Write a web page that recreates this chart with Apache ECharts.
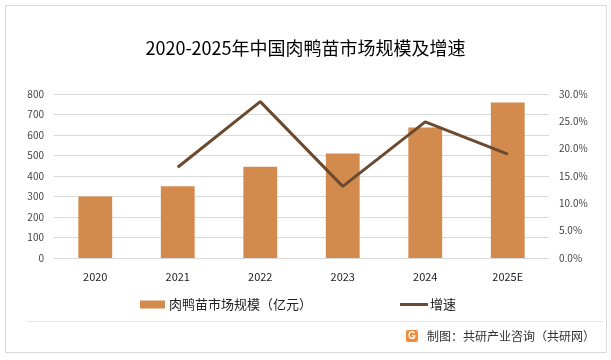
<!DOCTYPE html>
<html><head><meta charset="utf-8">
<script src="https://cdn.jsdelivr.net/npm/echarts@6/dist/echarts.min.js"></script>
<style>html,body{margin:0;padding:0;background:#fff}#c{width:611px;height:360px}</style>
</head><body><div id="c"></div>
<script>
const categories = ['2020','2021','2022','2023','2024','2025E'];
const marketSize = [300, 350, 445, 510, 636, 758];
const growthRate = [null, 16.6, 28.6, 13.1, 24.9, 19.0];
const leftTicks = [0, 800, 100];
const rightTicks = [0, 30, 5];
const seriesNames = ['肉鸭苗市场规模（亿元）', '增速'];
const titleText = '2020-2025年中国肉鸭苗市场规模及增速';
const sourceText = '制图：共研产业咨询（共研网）';

const font = '"Microsoft YaHei","Noto Sans CJK SC","Noto Sans",sans-serif';
const chart = echarts.init(document.getElementById('c'), null, {renderer:'canvas'});
chart.setOption({
  backgroundColor:'#fff',
  animation:false,
  title:{text:titleText,left:'center',top:34,textStyle:{fontSize:18,fontWeight:'normal',color:'#000',fontFamily:font}},
  grid:{left:54,right:62,top:94,bottom:102,containLabel:false},
  legend:[
    {left:140,top:298,padding:0,itemGap:4,itemWidth:25,itemHeight:8,data:[{name:seriesNames[0],icon:'rect'}],textStyle:{fontSize:13,color:'#222',fontFamily:font,padding:[0,0,0,-1]}},
    {left:400,top:298,padding:0,itemWidth:28,itemHeight:3,data:[{name:seriesNames[1],icon:'rect'}],textStyle:{fontSize:13,color:'#222',fontFamily:font,padding:[0,0,0,-3]}}
  ],
  xAxis:{type:'category',data:categories,axisLine:{lineStyle:{color:'#d9d9d9'}},axisTick:{show:false},
    axisLabel:{color:'#222',fontSize:11,margin:13,fontFamily:font}},
  yAxis:[
    {type:'value',min:leftTicks[0],max:leftTicks[1],interval:leftTicks[2],
      axisLabel:{color:'#444',fontSize:10,margin:10,fontFamily:font},
      splitLine:{lineStyle:{color:'#d9d9d9'}},axisLine:{show:false},axisTick:{show:false}},
    {type:'value',min:rightTicks[0],max:rightTicks[1],interval:rightTicks[2],
      axisLabel:{color:'#444',fontSize:10,margin:10,fontFamily:font,formatter:v=>v.toFixed(1)+'%'},
      splitLine:{show:false},axisLine:{show:false},axisTick:{show:false}}
  ],
  series:[
    {name:seriesNames[0],type:'bar',data:marketSize,barWidth:'41%',itemStyle:{color:'#D38B4D'}},
    {name:seriesNames[1],type:'line',yAxisIndex:1,data:growthRate,symbol:'none',
      lineStyle:{color:'#6B4A2F',width:3},itemStyle:{color:'#6B4A2F'}}
  ],
  graphic:[
    {type:'rect',shape:{x:5.5,y:5.5,width:601,height:347},style:{fill:null,stroke:'#d9d9d9',lineWidth:1},silent:true},
    {type:'line',shape:{x1:27,y1:321.5,x2:603,y2:321.5},style:{stroke:'#e6e6e6',lineWidth:1}},
    {type:'rect',shape:{x:406,y:330,width:12,height:12,r:2},style:{fill:'#F08A3C'}},
    {type:'text',style:{x:412,y:336,text:'G',fill:'#fff',font:'bold 10px sans-serif',align:'center',verticalAlign:'middle'}},
    {type:'text',style:{x:427,y:336,text:sourceText,fill:'#333',font:'12px '+font,verticalAlign:'middle'}}
  ]
});
</script></body></html>
